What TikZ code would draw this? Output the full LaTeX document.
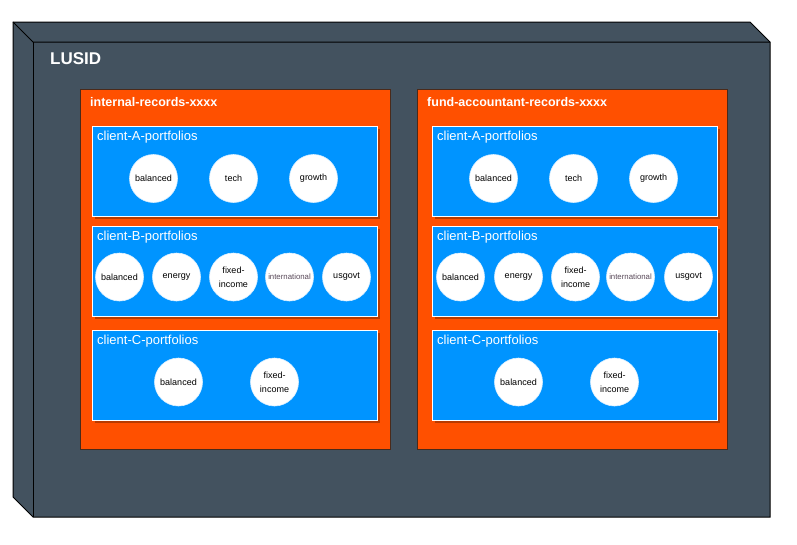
\documentclass[tikz,border=0pt]{standalone}
\usepackage{fontspec}
\setmainfont{Liberation Sans}
\definecolor{cubefill}{HTML}{43525F}
\definecolor{orangefill}{HTML}{FF5000}
\definecolor{orangeline}{HTML}{4A2A1A}
\definecolor{bluefill}{HTML}{0094FF}
\definecolor{shadowcol}{HTML}{B83A00}
\definecolor{intlcol}{HTML}{5A4A5A}
\tikzset{
  recbox/.style={draw=orangeline, line width=1pt, fill=orangefill, anchor=north west, inner sep=0pt},
  clientbox/.style={draw=white, line width=1pt, fill=bluefill, anchor=north west, inner sep=0pt},
  shadowbox/.style={fill=shadowcol, anchor=north west, inner sep=0pt, draw=none},
  rectitle/.style={anchor=west, text=white, font=\fontsize{12.5}{14}\selectfont\bfseries, inner sep=0pt},
  clienttitle/.style={anchor=west, text=white, font=\fontsize{13}{15}\selectfont, inner sep=0pt},
  pf/.style={circle, fill=white, draw=white!85!bluefill, line width=0.6pt, minimum size=48pt, inner sep=0pt, align=center, font=\fontsize{9}{14}\selectfont},
  pfintl/.style={pf, font=\fontsize{7.8}{10}\selectfont, text=intlcol},
}
\begin{document}
\begin{tikzpicture}[x=1pt,y=-1pt]
\useasboundingbox (0,0) rectangle (797,544);
% cube
\draw[fill=cubefill, line width=1pt, line join=miter] (13,22) -- (750,22) -- (770,42) -- (770,517) -- (33,517) -- (13,497) -- cycle;
\draw[line width=1pt] (13,22) -- (33,42) -- (770,42);
\draw[line width=1pt] (33,42) -- (33,517);
\node[anchor=west, text=white, font=\fontsize{17}{19}\selectfont\bfseries, inner sep=0pt] (lusid) at (50,59) {LUSID};

% left records box
\node[recbox, minimum width=310pt, minimum height=360pt] (recL) at (80,89) {};
\node[rectitle] (recLt) at (90,102) {internal-records-xxxx};
% right records box
\node[recbox, minimum width=310pt, minimum height=360pt] (recR) at (417,89) {};
\node[rectitle] (recRt) at (427,102) {fund-accountant-records-xxxx};

% client boxes: shadows
\foreach \xx in {92,432} {
  \foreach \yy in {126,226,330} {
    \node[shadowbox, minimum width=285pt, minimum height=90pt] at (\xx+3,\yy+3) {};
  }
}
% left client boxes
\node[clientbox, minimum width=285pt, minimum height=90pt] (LA) at (92,126) {};
\node[clienttitle] (LAt) at (97,137) {client-A-portfolios};
\node[clientbox, minimum width=285pt, minimum height=90pt] (LB) at (92,226) {};
\node[clienttitle] (LBt) at (97,237) {client-B-portfolios};
\node[clientbox, minimum width=285pt, minimum height=90pt] (LC) at (92,330) {};
\node[clienttitle] (LCt) at (97,341) {client-C-portfolios};
% right client boxes
\node[clientbox, minimum width=285pt, minimum height=90pt] (RA) at (432,126) {};
\node[clienttitle] (RAt) at (437,137) {client-A-portfolios};
\node[clientbox, minimum width=285pt, minimum height=90pt] (RB) at (432,226) {};
\node[clienttitle] (RBt) at (437,237) {client-B-portfolios};
\node[clientbox, minimum width=285pt, minimum height=90pt] (RC) at (432,330) {};
\node[clienttitle] (RCt) at (437,341) {client-C-portfolios};

% left A
\node[pf] (LAbal) at (153.5,178.5) {balanced};
\node[pf] (LAtech) at (233.5,178.5) {tech};
\node[pf] (LAgro) at (313.5,178.5) {growth};
% left B
\node[pf] (LBbal) at (119.5,277) {balanced};
\node[pf] (LBene) at (176.5,277) {energy};
\node[pf] (LBfix) at (233.5,277) {fixed-\\income};
\node[pfintl] (LBint) at (289.5,277) {international};
\node[pf] (LBusg) at (346.5,277) {usgovt};
% left C
\node[pf] (LCbal) at (178.5,382) {balanced};
\node[pf] (LCfix) at (274.5,382) {fixed-\\income};

% right A
\node[pf] (RAbal) at (493.5,178.5) {balanced};
\node[pf] (RAtech) at (573.5,178.5) {tech};
\node[pf] (RAgro) at (653.5,178.5) {growth};
% right B
\node[pf] (RBbal) at (460.5,277) {balanced};
\node[pf] (RBene) at (518.5,277) {energy};
\node[pf] (RBfix) at (575.5,277) {fixed-\\income};
\node[pfintl] (RBint) at (630.5,277) {international};
\node[pf] (RBusg) at (688.5,277) {usgovt};
% right C
\node[pf] (RCbal) at (518.5,382) {balanced};
\node[pf] (RCfix) at (614.5,382) {fixed-\\income};
\end{tikzpicture}
\end{document}
